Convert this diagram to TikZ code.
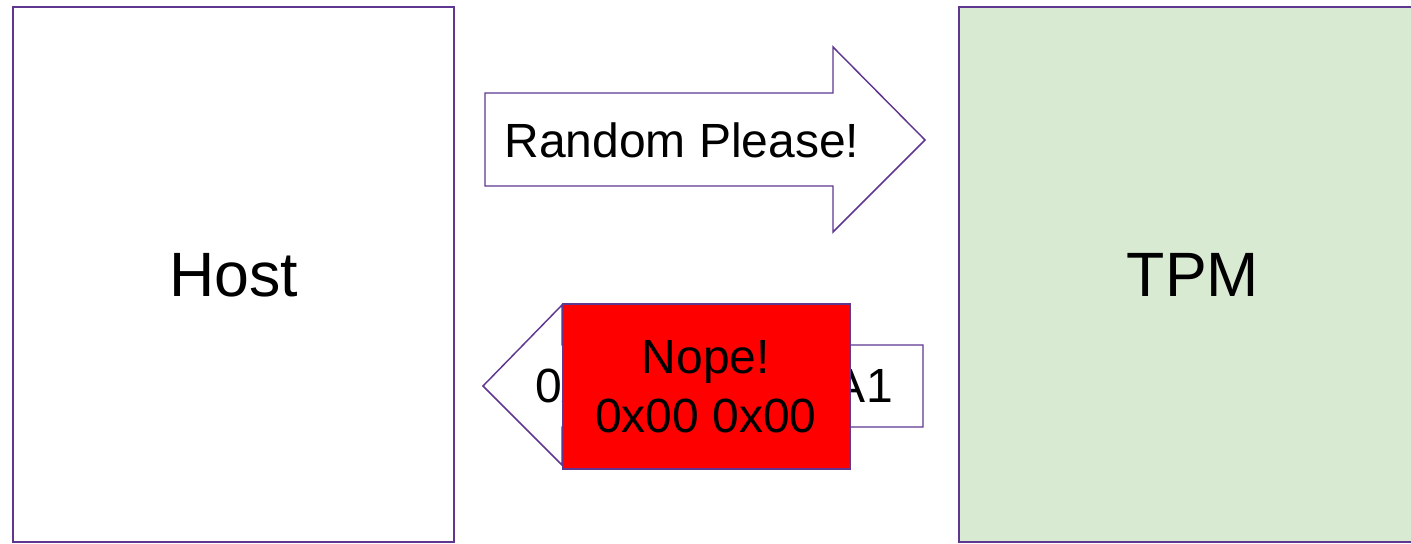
\documentclass[tikz,border=0pt]{standalone}
\usepackage{fontspec}
\setmainfont{Liberation Sans}
\definecolor{edge}{RGB}{95,55,145}
\definecolor{tpmgreen}{RGB}{217,234,211}
\definecolor{nopered}{RGB}{255,0,0}
\tikzset{
  boxstyle/.style={draw=edge, line width=1.5pt, rectangle, inner sep=0pt},
  arrowstyle/.style={draw=edge, line width=1.1pt, fill=white, line join=miter},
  bigtext/.style={font=\fontsize{47}{56}\selectfont},
  midtext/.style={font=\fontsize{36}{44}\selectfont},
}
\begin{document}
\begin{tikzpicture}[x=0.75pt,y=-0.75pt]
\useasboundingbox (0,0) rectangle (1411,543);
\clip (0,0) rectangle (1411,543);
% Host and TPM
\node[boxstyle, fill=white, minimum width=441*0.75pt, minimum height=535*0.75pt, anchor=north west] (host) at (12,6) {};
\node[bigtext] (hostlabel) at (234,275) {Host};
\node[boxstyle, fill=tpmgreen, minimum width=470*0.75pt, minimum height=535*0.75pt, anchor=north west] (tpm) at (958,6) {};
\node[bigtext] (tpmlabel) at (1193,275) {TPM};
% Request arrow
\draw[arrowstyle] (485,93) -- (833,93) -- (833,47) -- (925,140) -- (833,232) -- (833,186) -- (485,186) -- cycle;
\node[midtext] (req) at (682,140) {Random Please!};
% Response arrow
\draw[arrowstyle] (923,345) -- (562,345) -- (562,305) -- (483,386) -- (562,465) -- (562,427) -- (923,427) -- cycle;
\node[midtext] (resp) at (714,386) {0x3C 0x7B 0xA1};
% Nope overlay
\node[boxstyle, fill=nopered, minimum width=287*0.75pt, minimum height=165*0.75pt, anchor=north west] (nope) at (562,303) {};
\node[midtext, align=center] (nopelabel) at (706,387) {Nope!\\0x00 0x00};
\end{tikzpicture}
\end{document}
